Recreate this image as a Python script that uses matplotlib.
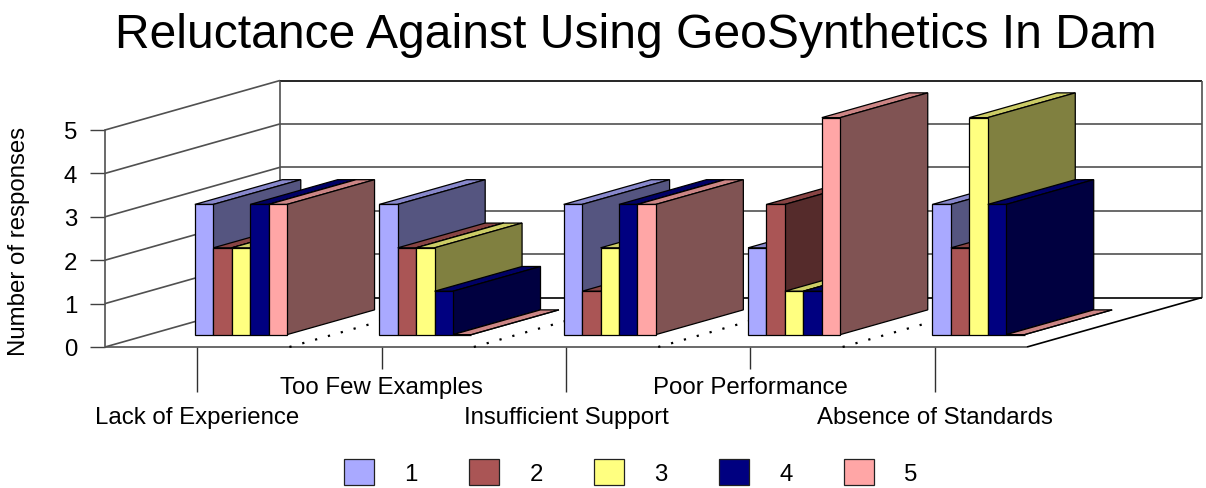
import matplotlib
matplotlib.use('Agg')
import matplotlib.pyplot as plt
from matplotlib.patches import Polygon, Patch

plt.rcParams['font.family'] = ['Liberation Sans', 'DejaVu Sans']

# Data
categorias = ['Lack of Experience', 'Too Few Examples', 'Insufficient Support',
              'Poor Performance', 'Absence of Standards']
serie_1 = [3, 3, 3, 2, 3]
serie_2 = [2, 2, 1, 3, 2]
serie_3 = [2, 2, 2, 1, 5]
serie_4 = [3, 1, 3, 1, 3]
serie_5 = [3, 0, 3, 5, 0]
series = [serie_1, serie_2, serie_3, serie_4, serie_5]
nombres = ['1', '2', '3', '4', '5']

frente = ['#A9A9FF', '#AA5555', '#FFFF80', '#000080', '#FFA6A6']
lado = ['#555580', '#552B2B', '#808040', '#000040', '#805353']
tapa = ['#8888CC', '#884444', '#CCCC66', '#000066', '#CC8585']

W, H = 1206, 489
fig = plt.figure(figsize=(W / 100, H / 100), dpi=100)
# front plane of the 3D box: x 105..1027 px, y 131..348 px
ax = fig.add_axes([105 / W, 1 - 348 / H, 922 / W, 217 / H])
ax.set_xlim(0, 5)
ax.set_ylim(0, 5)

# oblique projection, depth 1 is the back wall
PROF_X = 175 / (922 / 5)
PROF_Y = 49.5 / (217 / 5)


def proy(x, y, d):
    return x + d * PROF_X, y + d * PROF_Y


def cara(puntos, color, z, lw=0.9, ec='black'):
    ax.add_patch(Polygon([proy(*p) for p in puntos], closed=True, fc=color, ec=ec,
                         lw=lw, zorder=z, clip_on=False, joinstyle='miter'))


def linea(p0, p1, color='#505050', lw=1.2, ls='-', z=2):
    a, b = proy(*p0), proy(*p1)
    ax.plot([a[0], b[0]], [a[1], b[1]], color=color, lw=lw, ls=ls, zorder=z,
            clip_on=False, solid_capstyle='butt')


# walls and gridlines
for v in range(6):
    linea((0, v, 0), (0, v, 1))
    linea((0, v, 1), (5, v, 1), color='black' if v in (0, 5) else '#505050')
linea((0, 0, 1), (0, 5, 1))
linea((5, 0, 1), (5, 5, 1))
linea((0, 0, 0), (5, 0, 0))
linea((5, 0, 0), (5, 0, 1), color='black')

# floor dotted lines between categories
for i in range(1, 5):
    linea((i, 0, 0), (i, 0, 1), color='black', lw=1.6, ls=(0, (1, 5)))

# bars, left to right
ancho = 0.1
z = 3
for i in range(len(categorias)):
    for s, vals in enumerate(series):
        x0 = i + 0.25 + s * ancho
        x1 = x0 + ancho
        v = vals[i]
        cara([(x0, v, 0.25), (x1, v, 0.25), (x1, v, 0.75), (x0, v, 0.75)], tapa[s], z)
        cara([(x1, 0, 0.25), (x1, 0, 0.75), (x1, v, 0.75), (x1, v, 0.25)], lado[s], z + 0.1)
        cara([(x0, 0, 0.25), (x1, 0, 0.25), (x1, v, 0.25), (x0, v, 0.25)], frente[s], z + 0.2)
        z += 1

# axes
for sp in ax.spines.values():
    sp.set_visible(False)
ax.spines['left'].set_visible(True)
ax.spines['left'].set_color('#505050')
ax.spines['left'].set_linewidth(1.2)
ax.patch.set_visible(False)

ax.set_yticks(range(6))
ax.tick_params(axis='y', length=15 * 0.72, width=1.0, color='#404040', pad=13 * 0.72, labelsize=17.3)

centros = [i + 0.5 for i in range(5)]
ax.set_xticks(centros[::2])
ax.set_xticklabels(categorias[::2])
ax.set_xticks(centros[1::2], minor=True)
ax.set_xticklabels(categorias[1::2], minor=True)
ax.tick_params(axis='x', which='major', length=45 * 0.72, width=1.0, color='#303030', pad=14 * 0.72, labelsize=17.3)
ax.tick_params(axis='x', which='minor', length=22 * 0.72, width=1.0, color='#303030', pad=7 * 0.72, labelsize=17.3)

fig.text(19 / W, 1 - 241 / H, 'Number of responses', rotation=90, ha='center', va='center', fontsize=17.3,
         transform=fig.transFigure)
fig.text(636 / W, 1 - 35.5 / H, 'Reluctance Against Using GeoSynthetics In Dam', ha='center', va='center', fontsize=34.6)

handles = [Patch(fc=c, ec='#222222', lw=0.9, label=n) for c, n in zip(frente, nombres)]
fig.legend(handles=handles, ncol=5, loc='center', bbox_to_anchor=(631 / W, 1 - 473 / H), frameon=False,
           fontsize=17.3, handlelength=1.25, handleheight=1.25, handletextpad=1.25, columnspacing=2.15,
           borderpad=0, borderaxespad=0)

fig.savefig('out.png', dpi=100)
